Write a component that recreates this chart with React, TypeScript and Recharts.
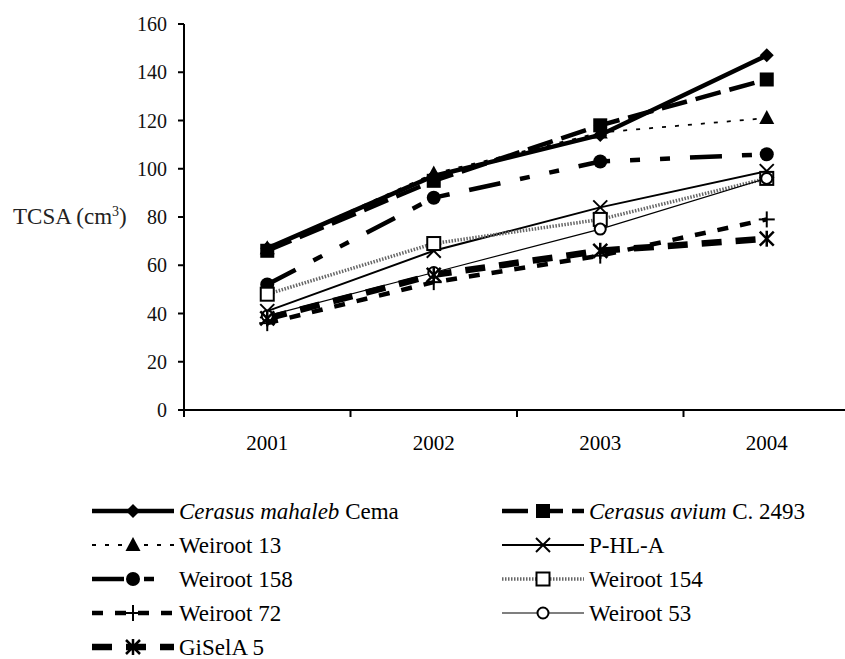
import { LineChart, Line, XAxis, YAxis, Legend } from "recharts";

// TCSA per rootstock, 2001-2004
const years = ["2001", "2002", "2003", "2004"];
const cema = [67, 97, 114, 147];
const avium = [66, 95, 118, 137];
const weiroot13 = [67, 98, 115, 121];
const phla = [41, 66, 84, 99];
const weiroot158 = [52, 88, 103, 106];
const weiroot154 = [48, 69, 79, 96];
const weiroot72 = [36, 53, 64, 79];
const weiroot53 = [39, 57, 75, 96];
const gisela5 = [38, 56, 66, 71];
const yTicks = [0, 20, 40, 60, 80, 100, 120, 140, 160];

const data = years.map((year, i) => ({
  year,
  cema: cema[i],
  avium: avium[i],
  weiroot13: weiroot13[i],
  phla: phla[i],
  weiroot158: weiroot158[i],
  weiroot154: weiroot154[i],
  weiroot72: weiroot72[i],
  weiroot53: weiroot53[i],
  gisela5: gisela5[i],
}));

type MarkerKind =
  | "diamond" | "square" | "triangle" | "x" | "circle"
  | "openSquare" | "plus" | "openCircle" | "asterisk";

interface SeriesStyle {
  key: string;
  italic?: string;
  plain: string;
  marker: MarkerKind;
  width: number;
  dash?: string;
  color: string;
}

// legend order (row by row, two columns)
const series: SeriesStyle[] = [
  { key: "cema", italic: "Cerasus mahaleb", plain: " Cema", marker: "diamond", width: 4.5, color: "#000" },
  { key: "avium", italic: "Cerasus avium", plain: " C. 2493", marker: "square", width: 4.5, dash: "26 9", color: "#000" },
  { key: "weiroot13", plain: "Weiroot 13", marker: "triangle", width: 1.8, dash: "4 9", color: "#000" },
  { key: "phla", plain: "P-HL-A", marker: "x", width: 2, color: "#000" },
  { key: "weiroot158", plain: "Weiroot 158", marker: "circle", width: 4.5, dash: "32 20 10 20 10 20", color: "#000" },
  { key: "weiroot154", plain: "Weiroot 154", marker: "openSquare", width: 3.5, dash: "1.5 1.5", color: "#666" },
  { key: "weiroot72", plain: "Weiroot 72", marker: "plus", width: 4.5, dash: "11 12", color: "#000" },
  { key: "weiroot53", plain: "Weiroot 53", marker: "openCircle", width: 1.2, color: "#000" },
  { key: "gisela5", plain: "GiSelA 5", marker: "asterisk", width: 6.5, dash: "20 14", color: "#000" },
];

const FONT = "Liberation Serif, Times New Roman, DejaVu Serif, serif";

function Marker({ kind, cx, cy }: { kind: MarkerKind; cx: number; cy: number }) {
  const s = 7;
  switch (kind) {
    case "diamond":
      return <path d={`M${cx},${cy - s} L${cx + s},${cy} L${cx},${cy + s} L${cx - s},${cy} Z`} fill="#000" />;
    case "square":
      return <rect x={cx - 7} y={cy - 7} width={14} height={14} fill="#000" />;
    case "triangle":
      return <path d={`M${cx},${cy - 8} L${cx + 7.5},${cy + 6} L${cx - 7.5},${cy + 6} Z`} fill="#000" />;
    case "x":
      return (
        <g stroke="#000" strokeWidth={2}>
          <line x1={cx - 7} y1={cy - 7} x2={cx + 7} y2={cy + 7} />
          <line x1={cx - 7} y1={cy + 7} x2={cx + 7} y2={cy - 7} />
        </g>
      );
    case "circle":
      return <circle cx={cx} cy={cy} r={7} fill="#000" />;
    case "openSquare":
      return <rect x={cx - 6.5} y={cy - 6.5} width={13} height={13} fill="#fff" stroke="#000" strokeWidth={2} />;
    case "plus":
      return (
        <g stroke="#000" strokeWidth={2}>
          <line x1={cx - 8} y1={cy} x2={cx + 8} y2={cy} />
          <line x1={cx} y1={cy - 8} x2={cx} y2={cy + 8} />
        </g>
      );
    case "openCircle":
      return <circle cx={cx} cy={cy} r={5.5} fill="#fff" stroke="#000" strokeWidth={2} />;
    case "asterisk":
      return (
        <g stroke="#000" strokeWidth={2.5}>
          <line x1={cx - 7} y1={cy - 7} x2={cx + 7} y2={cy + 7} />
          <line x1={cx - 7} y1={cy + 7} x2={cx + 7} y2={cy - 7} />
          <line x1={cx} y1={cy - 8} x2={cx} y2={cy + 8} />
        </g>
      );
  }
  return null;
}

function YearTick(props: any) {
  const { x, y, payload, index } = props;
  const half = payload?.offset ?? 0;
  const axisY = y - 25;
  return (
    <g>
      <line x1={x - half} x2={x - half} y1={axisY} y2={axisY + 7} stroke="#000" strokeWidth={2} />
      {index === years.length - 1 && (
        <line x1={x + half} x2={x + half} y1={axisY} y2={axisY + 7} stroke="#000" strokeWidth={2} />
      )}
      <text x={x} y={y + 15} textAnchor="middle" fill="#000" style={{ fontSize: 21, fontFamily: FONT }}>
        {payload.value}
      </text>
    </g>
  );
}

function YLabel(props: any) {
  const vb = props.viewBox;
  return (
    <text x={vb.x + 13} y={vb.y + vb.height / 2 + 7} fill="#222" style={{ fontSize: 23, fontFamily: FONT }}>
      TCSA (cm
      <tspan dy={-8} style={{ fontSize: 14 }}>3</tspan>
      <tspan dy={8}>)</tspan>
    </text>
  );
}

function LegendBlock() {
  const rowY = (i: number) => 21 + Math.floor(i / 2) * 34;
  return (
    <svg width={845} height={169} style={{ display: "block" }}>
      {series.map((s, i) => {
        const col = i % 2;
        const x1 = col === 0 ? 92 : 502;
        const x2 = x1 + 82;
        const cy = rowY(i);
        return (
          <g key={s.key}>
            <line x1={x1} x2={x2} y1={cy} y2={cy} stroke={s.color} strokeWidth={s.width} strokeDasharray={s.dash} />
            <Marker kind={s.marker} cx={(x1 + x2) / 2} cy={cy} />
            <text x={x2 + 5} y={cy + 8} fill="#000" style={{ fontSize: 23, fontFamily: FONT }}>
              {s.italic && <tspan style={{ fontStyle: "italic" }}>{s.italic}</tspan>}
              {s.plain}
            </text>
          </g>
        );
      })}
    </svg>
  );
}

export default function App() {
  return (
    <div style={{ position: "absolute", left: 0, top: 0, width: 845, height: 659, overflow: "hidden", background: "#fff", fontFamily: FONT }}>
      <LineChart width={850} height={659} data={data} margin={{ top: 24, right: 0, bottom: 219, left: 0 }}>
        <XAxis
          dataKey="year"
          scale="band"
          height={30}
          axisLine={{ stroke: "#000", strokeWidth: 2 }}
          tickLine={false}
          tickSize={0}
          tickMargin={25}
          tick={<YearTick />}
          interval={0}
        />
        <YAxis
          width={184}
          domain={[0, 160]}
          ticks={yTicks}
          interval={0}
          axisLine={{ stroke: "#000", strokeWidth: 2 }}
          tickLine={{ stroke: "#000", strokeWidth: 2 }}
          tickSize={6}
          tickMargin={11}
          tick={{ fill: "#111", fontSize: 20, fontFamily: FONT, style: { fontFamily: FONT } }}
          label={<YLabel />}
        />
        <Legend
          layout="vertical"
          align="center"
          verticalAlign="middle"
          content={() => <LegendBlock />}
          wrapperStyle={{ position: "absolute", left: 0, top: 490, width: 845, height: 169 }}
        />
        {series.map((s) => (
          <Line
            key={s.key}
            dataKey={s.key}
            stroke={s.color}
            strokeWidth={s.width}
            strokeDasharray={s.dash}
            isAnimationActive={false}
            legendType="none"
            dot={(p: any) => <Marker key={`${s.key}-${p.index}`} kind={s.marker} cx={p.cx} cy={p.cy} />}
            activeDot={false}
          />
        ))}
      </LineChart>
    </div>
  );
}
